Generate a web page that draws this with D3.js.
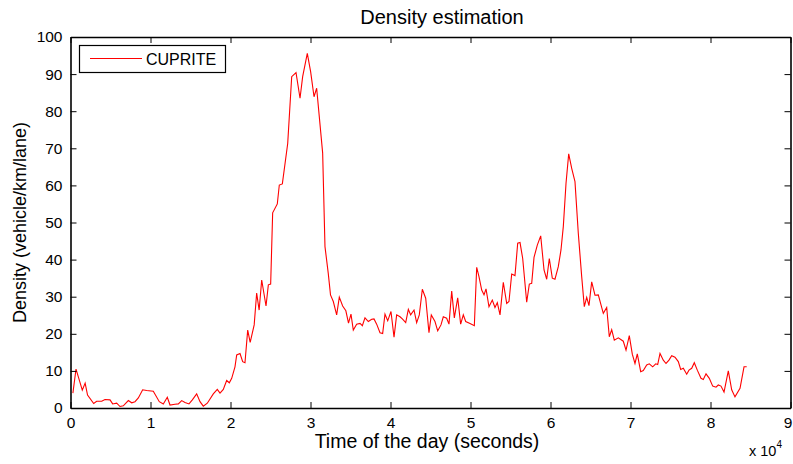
<!DOCTYPE html>
<html>
<head>
<meta charset="utf-8">
<script src="https://cdn.jsdelivr.net/npm/d3@7"></script>
<style>
  body { margin: 0; background: #fff; }
  svg { font-family: "Liberation Sans", Arial, sans-serif; }
</style>
</head>
<body>
<svg width="793" height="464"></svg>
<script>
// Data: time of day (seconds) and density (vehicle/km/lane)
const times = [
  300, 690, 1475, 1830, 2130, 2900, 3270, 3900, 4310, 4940, 5270, 5770, 6190, 6600,
  7230, 7650, 8060, 8480, 9020, 9520, 10350, 11100, 11600, 12100, 12440, 13060, 13480,
  13900, 14310, 14810, 15230, 15770, 16190, 16600, 17100, 17850, 18350, 18690, 19100,
  19520, 19850, 20150, 20560, 20775, 21190, 21520, 21810, 22150, 22460, 22960, 23270,
  23580, 23900, 24440, 24730, 25020, 25270, 25850, 26100, 26480, 27150, 27650, 28190,
  28690, 29020, 29600, 30020, 30440, 30770, 31520, 31810, 32220, 32500, 32850, 33270,
  33600, 34020, 34420, 34750, 35060, 35350, 35770, 36190, 36480, 36810, 37230, 37650,
  37940, 38270, 38690, 39020, 39310, 39650, 40060, 40440, 40770, 41190, 41480, 41900,
  42230, 42520, 42940, 43270, 43600, 43980, 44400, 44810, 45100, 45560, 45900, 46310,
  46600, 47020, 47310, 47650, 47980, 48400, 48770, 49100, 49400, 49940, 50480, 50775,
  51060, 51400, 51690, 51940, 52310, 52725, 53060, 53350, 53690, 54100, 54525, 54810,
  55150, 55560, 55900, 56190, 56525, 57025, 57350, 57650, 57940, 58350, 58775, 59190,
  59525, 59850, 60225, 60560, 60975, 61310, 61600, 61940, 62275, 62650, 63060, 63475,
  63900, 64225, 64525, 64810, 65150, 65560, 65975, 66600, 67025, 67350, 67650, 67975,
  68475, 69100, 69440, 69850, 70225, 70560, 70850, 71275, 71600, 72025, 72350, 72775,
  73150, 73400, 73690, 74100, 74440, 74810, 75150, 75560, 75975, 76275, 76600, 77025,
  77310, 77650, 77975, 78350, 78810, 79100, 79440, 79850, 80275, 80690, 80975, 81310,
  81690, 82225, 82650, 83060, 83690, 84190, 84525
];
const density = [
  4.0, 10.5, 4.8, 6.7, 3.5, 1.2, 1.8, 1.8, 2.3, 2.2, 1.1, 1.3, 0.4, 0.6,
  2.0, 1.4, 1.7, 2.7, 4.9, 4.7, 4.5, 1.7, 1.1, 2.9, 0.8, 1.0, 1.1,
  2.0, 1.5, 1.1, 2.2, 3.8, 1.7, 0.5, 1.3, 3.8, 5.0, 4.0, 5.0,
  7.4, 6.8, 8.0, 11.1, 14.3, 14.7, 12.5, 12.2, 21.0, 17.7, 22.4, 31.0,
  26.4, 34.5, 27.5, 33.2, 33.4, 52.6, 55.0, 60.1, 60.4, 71.3, 89.3, 90.4,
  83.5, 89.3, 95.6, 90.6, 83.9, 86.2, 68.7, 43.5, 36.3, 30.5, 28.7, 25.1,
  29.9, 27.5, 26.2, 22.9, 25.3, 21.0, 22.6, 22.8, 22.2, 24.3, 23.3, 23.9,
  24.0, 22.6, 20.3, 20.1, 25.3, 23.5, 26.0, 19.1, 25.1, 24.6, 24.0, 23.0,
  26.6, 25.1, 26.4, 23.0, 25.1, 32.0, 29.6, 20.3, 25.1, 23.3, 20.8, 22.4,
  24.6, 24.2, 22.6, 31.5, 24.3, 29.7, 22.6, 25.1, 23.3, 22.8, 22.2, 37.9,
  35.4, 31.8, 30.5, 32.1, 27.3, 29.1, 27.1, 28.4, 25.1, 33.9, 28.2, 28.7,
  36.1, 35.7, 44.4, 44.6, 40.3, 28.5, 33.4, 33.6, 40.6, 43.9, 46.4, 37.2,
  34.7, 40.3, 35.0, 34.7, 38.1, 42.6, 48.9, 60.6, 68.5, 64.6, 61.0, 47.1,
  35.4, 27.3, 29.8, 27.6, 34.0, 30.4, 30.5, 25.5, 27.1, 19.2, 21.1, 18.3,
  18.9, 18.0, 15.6, 19.5, 14.5, 12.0, 14.6, 9.8, 10.1, 11.6, 11.9, 11.1,
  11.9, 11.7, 14.7, 12.9, 12.0, 12.9, 14.1, 13.7, 12.5, 10.4, 10.7, 9.1,
  10.2, 10.7, 12.2, 10.2, 8.0, 7.7, 9.2, 8.0, 5.9, 5.6, 6.2, 5.9,
  4.3, 10.0, 4.9, 3.0, 5.3, 11.1, 11.1
];
const xTicks = [0, 1, 2, 3, 4, 5, 6, 7, 8, 9];          // in units of 10^4 s
const yTicks = [0, 10, 20, 30, 40, 50, 60, 70, 80, 90, 100];
const seriesName = "CUPRITE";

const svg = d3.select("svg");
const plotL = 70.5, plotR = 790.5, plotT = 37, plotB = 408;

const x = d3.scaleLinear().domain([0, 90000]).range([plotL, plotR]);
const y = d3.scaleLinear().domain([0, 100]).range([plotB, plotT]);

// the curve
const pts = times.map((t, i) => [t, density[i]]);
svg.append("path")
    .datum(pts)
    .attr("fill", "none")
    .attr("stroke", "#ff0000")
    .attr("stroke-width", 1.1)
    .attr("d", d3.line().x(d => x(d[0])).y(d => y(d[1])));

// axes, ticks pointing inward like matlab
const tickLen = 6;
const xAxisB = d3.axisBottom(x).tickValues(xTicks.map(v => v * 10000))
    .tickFormat(d => d / 10000).tickSizeInner(-tickLen).tickSizeOuter(0).tickPadding(9);
const xAxisT = d3.axisTop(x).tickValues(xTicks.map(v => v * 10000))
    .tickFormat("").tickSizeInner(-tickLen).tickSizeOuter(0);
const yAxisL = d3.axisLeft(y).tickValues(yTicks)
    .tickSizeInner(-tickLen).tickSizeOuter(0).tickPadding(8);
const yAxisR = d3.axisRight(y).tickValues(yTicks)
    .tickFormat("").tickSizeInner(-tickLen).tickSizeOuter(0);

function style(g) {
  g.select(".domain").attr("stroke", "#000").attr("stroke-width", 1.6);
  g.selectAll(".tick line").attr("stroke", "#000").attr("stroke-width", 1);
  g.selectAll(".tick text").attr("fill", "#000").style("font-size", "15.5px");
}

const gx = svg.append("g").attr("transform", `translate(0,${plotB})`).call(xAxisB).call(style);
// last label sits on the page edge, nudge it in like the reference
gx.selectAll(".tick text").filter(d => d === 90000).attr("dx", -3);
svg.append("g").attr("transform", `translate(0,${plotT})`).call(xAxisT).call(style);
svg.append("g").attr("transform", `translate(${plotL},0)`).call(yAxisL).call(style);
svg.append("g").attr("transform", `translate(${plotR},0)`).call(yAxisR).call(style);

// exponent label
const expo = svg.append("text")
    .attr("x", 749).attr("y", 456)
    .style("font-size", "14.5px")
    .text("x 10");
expo.append("tspan").attr("dy", -8).style("font-size", "10px").text("4");

// titles
svg.append("text")
    .attr("x", 442).attr("y", 24)
    .attr("text-anchor", "middle")
    .style("font-size", "20px")
    .text("Density estimation");

svg.append("text")
    .attr("x", 427).attr("y", 448)
    .attr("text-anchor", "middle")
    .style("font-size", "19.5px")
    .text("Time of the day (seconds)");

svg.append("text")
    .attr("transform", `translate(26,${(plotT + plotB) / 2}) rotate(-90)`)
    .attr("text-anchor", "middle")
    .style("font-size", "18px")
    .text("Density (vehicle/km/lane)");

// legend
const lg = svg.append("g");
lg.append("rect")
    .attr("x", 79.5).attr("y", 45.5).attr("width", 146).attr("height", 27)
    .attr("fill", "#fff").attr("stroke", "#000").attr("stroke-width", 1.2);
lg.append("line")
    .attr("x1", 90).attr("x2", 142).attr("y1", 58.5).attr("y2", 58.5)
    .attr("stroke", "#ff0000").attr("stroke-width", 1.1);
lg.append("text")
    .attr("x", 146).attr("y", 65)
    .style("font-size", "16px")
    .text(seriesName);
</script>
</body>
</html>
